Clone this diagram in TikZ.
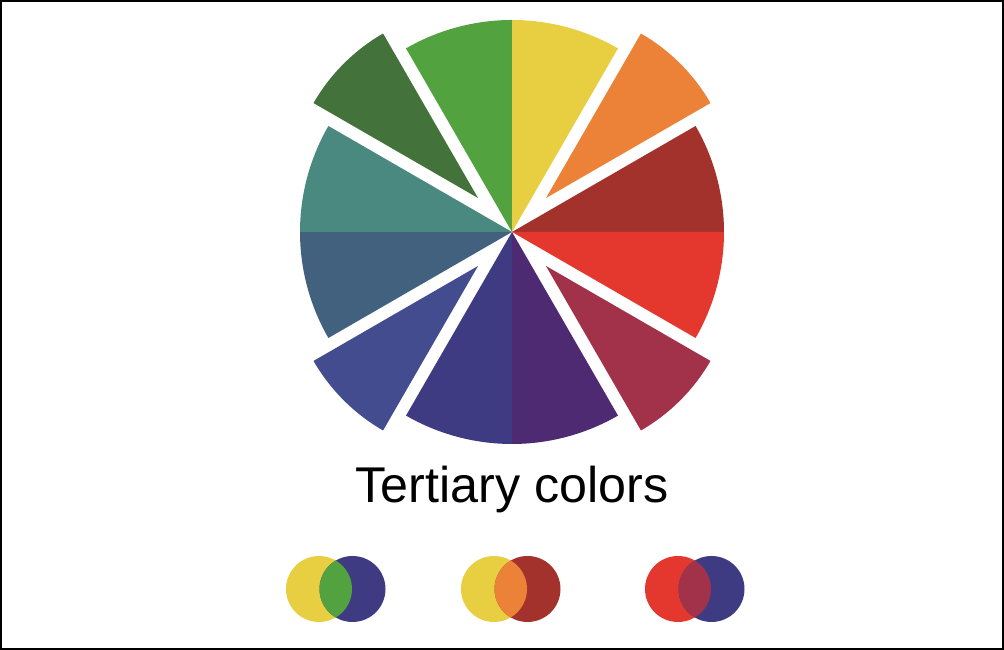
\documentclass[tikz,border=0pt]{standalone}
\usepackage{fontspec}
\setmainfont{Liberation Sans}
\usepackage{xcolor}
\usetikzlibrary{calc}

\definecolor{wyellow}{HTML}{E8CF42}
\definecolor{worange}{HTML}{EC8138}
\definecolor{wdkred}{HTML}{A3322C}
\definecolor{wred}{HTML}{E4382E}
\definecolor{wcrimson}{HTML}{A1324A}
\definecolor{wpurple}{HTML}{4D2A72}
\definecolor{windigo}{HTML}{3F3B82}
\definecolor{wblue}{HTML}{434C8E}
\definecolor{wslate}{HTML}{42617F}
\definecolor{wteal}{HTML}{4A897F}
\definecolor{wdkgreen}{HTML}{43723A}
\definecolor{wgreen}{HTML}{52A33F}

\tikzset{mixdot/.style={radius=0.33}}

\begin{document}
\begin{tikzpicture}
    \useasboundingbox (0,0) rectangle (10.04,6.5);
    \draw[line width=0.018cm] (0.009,0.009) rectangle (10.031,6.491);
    \coordinate (C) at (5.12,4.18);

    % wedges that stay in place
    \foreach \a/\b/\c in {90/120/wgreen, 60/90/wyellow, 0/30/wdkred, -30/0/wred,
                          -90/-60/wpurple, -120/-90/windigo, 180/210/wslate, 150/180/wteal}
        \fill[\c] (C) -- ++(\a:2.12) arc[start angle=\a, end angle=\b, radius=2.12] -- cycle;

    % wedges pulled out
    \foreach \m/\c in {45/worange, -45/wcrimson, 225/wblue, 135/wdkgreen}
        \fill[\c] ($(C)+(\m:0.48)$) -- ++(\m-15:1.9)
            arc[start angle=\m-15, end angle=\m+15, radius=1.9] -- cycle;

    \node[font=\fontsize{14.3}{17}\selectfont, anchor=base] (title) at (5.12,1.47) {Tertiary colors};

    % mixing pairs
    \foreach \x/\l/\r/\mix [count=\i] in {3.19/wyellow/windigo/wgreen,
                                         4.94/wyellow/wdkred/worange,
                                         6.78/wred/windigo/wcrimson} {
        \coordinate (L\i) at (\x,0.61);
        \coordinate (R\i) at (\x+0.335,0.61);
        \fill[\l] (L\i) circle[mixdot];
        \fill[\r] (R\i) circle[mixdot];
        \begin{scope}
            \clip (L\i) circle[mixdot];
            \fill[\mix] (R\i) circle[mixdot];
        \end{scope}
    }
\end{tikzpicture}
\end{document}
